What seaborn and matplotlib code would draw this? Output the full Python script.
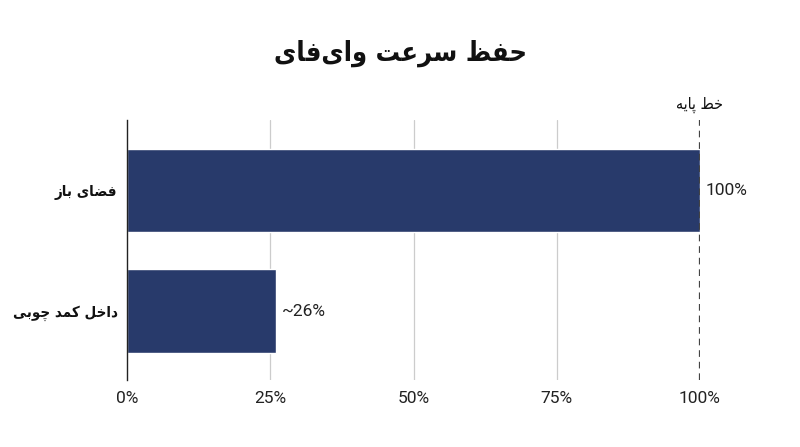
import matplotlib
matplotlib.use("Agg")
import matplotlib.pyplot as plt
import seaborn as sns
import pandas as pd

# --- data ---
title = "حفظ سرعت وای‌فای"
categories = ["فضای باز", "داخل کمد چوبی"]
values = [100, 26]
value_labels = ["100%", "~26%"]
baseline_value = 100
baseline_label = "خط پایه"
xticks = [0, 25, 50, 75, 100]
xtick_labels = ["0%", "25%", "50%", "75%", "100%"]

# matplotlib has no Arabic shaping: map letters to presentation forms and reverse
# (isolated, final, initial, medial); None initial => right-joining only
FORMS = {
    "ا": ("\uFE8D", "\uFE8E", None, None),
    "ب": ("\uFE8F", "\uFE90", "\uFE91", "\uFE92"),
    "پ": ("\uFB56", "\uFB57", "\uFB58", "\uFB59"),
    "ت": ("\uFE95", "\uFE96", "\uFE97", "\uFE98"),
    "ح": ("\uFEA1", "\uFEA2", "\uFEA3", "\uFEA4"),
    "خ": ("\uFEA5", "\uFEA6", "\uFEA7", "\uFEA8"),
    "چ": ("\uFB7A", "\uFB7B", "\uFB7C", "\uFB7D"),
    "د": ("\uFEA9", "\uFEAA", None, None),
    "ر": ("\uFEAD", "\uFEAE", None, None),
    "ز": ("\uFEAF", "\uFEB0", None, None),
    "س": ("\uFEB1", "\uFEB2", "\uFEB3", "\uFEB4"),
    "ض": ("\uFEBD", "\uFEBE", "\uFEBF", "\uFEC0"),
    "ط": ("\uFEC1", "\uFEC2", "\uFEC3", "\uFEC4"),
    "ظ": ("\uFEC5", "\uFEC6", "\uFEC7", "\uFEC8"),
    "ع": ("\uFEC9", "\uFECA", "\uFECB", "\uFECC"),
    "ف": ("\uFED1", "\uFED2", "\uFED3", "\uFED4"),
    "ک": ("\uFB8E", "\uFB8F", "\uFB90", "\uFB91"),
    "ل": ("\uFEDD", "\uFEDE", "\uFEDF", "\uFEE0"),
    "م": ("\uFEE1", "\uFEE2", "\uFEE3", "\uFEE4"),
    "ه": ("\uFEE9", "\uFEEA", "\uFEEB", "\uFEEC"),
    "و": ("\uFEED", "\uFEEE", None, None),
    "ی": ("\uFBFC", "\uFBFD", "\uFBFE", "\uFBFF"),
}

def shape(text):
    out = []
    n = len(text)
    for i, ch in enumerate(text):
        if ch not in FORMS:
            if ch != "\u200c":
                out.append(ch)
            continue
        prev = text[i - 1] if i > 0 else ""
        nxt = text[i + 1] if i < n - 1 else ""
        join_prev = prev in FORMS and FORMS[prev][2] is not None
        join_next = nxt in FORMS and FORMS[ch][2] is not None
        iso, fin, ini, med = FORMS[ch]
        if join_prev and join_next:
            out.append(med)
        elif join_prev:
            out.append(fin)
        elif join_next:
            out.append(ini)
        else:
            out.append(iso)
    return "".join(out)[::-1]

sns.set_style("white")
plt.rcParams["font.family"] = ["Roboto", "DejaVu Sans"]

bar_color = "#283a6b"
df = pd.DataFrame({"cat": categories, "val": values})

fig = plt.figure(figsize=(8, 4.47), dpi=100)
ax = fig.add_axes([0.159, 0.150, 0.716, 0.581])

sns.barplot(data=df, x="val", y="cat", orient="h", color=bar_color,
            saturation=1, width=0.69, ax=ax)

ax.set_xlim(0, 100)
ax.set_ylim(1.57, -0.58)
ax.set_xticks(xticks)
ax.set_xticklabels(xtick_labels, fontsize=12.5, color="#222222")
ax.set_yticks(range(len(categories)))
ax.set_yticklabels([shape(c) for c in categories], fontsize=10.8,
                   fontweight="bold", fontstretch="condensed",
                   family=["DejaVu Sans"], color="#111111")
ax.tick_params(axis="x", length=0, pad=8)
ax.tick_params(axis="y", length=0, pad=7)
ax.set_xlabel("")
ax.set_ylabel("")

for x in xticks[1:-1]:
    ax.axvline(x, color="#cccccc", lw=0.9, zorder=0)
ax.axvline(baseline_value, color="#444444", lw=1.6, ls=(0, (3, 2.2)), zorder=3)
ax.text(baseline_value, -0.64, shape(baseline_label), ha="center", va="bottom",
        fontsize=11.5, fontstretch="condensed", family=["DejaVu Sans"],
        color="#111111")

for i, (v, lab) in enumerate(zip(values, value_labels)):
    ax.text(v + 1.0, i, lab, ha="left", va="center", fontsize=12.5, color="#222222")

for side in ["top", "right", "bottom"]:
    ax.spines[side].set_visible(False)
ax.spines["left"].set_color("#222222")
ax.spines["left"].set_linewidth(1.0)

fig.suptitle(shape(title), x=0.5, y=0.912, fontsize=19.5, fontweight="bold",
             fontstretch="condensed", family=["DejaVu Sans"], color="#111111")

fig.savefig("out.png", dpi=100)
